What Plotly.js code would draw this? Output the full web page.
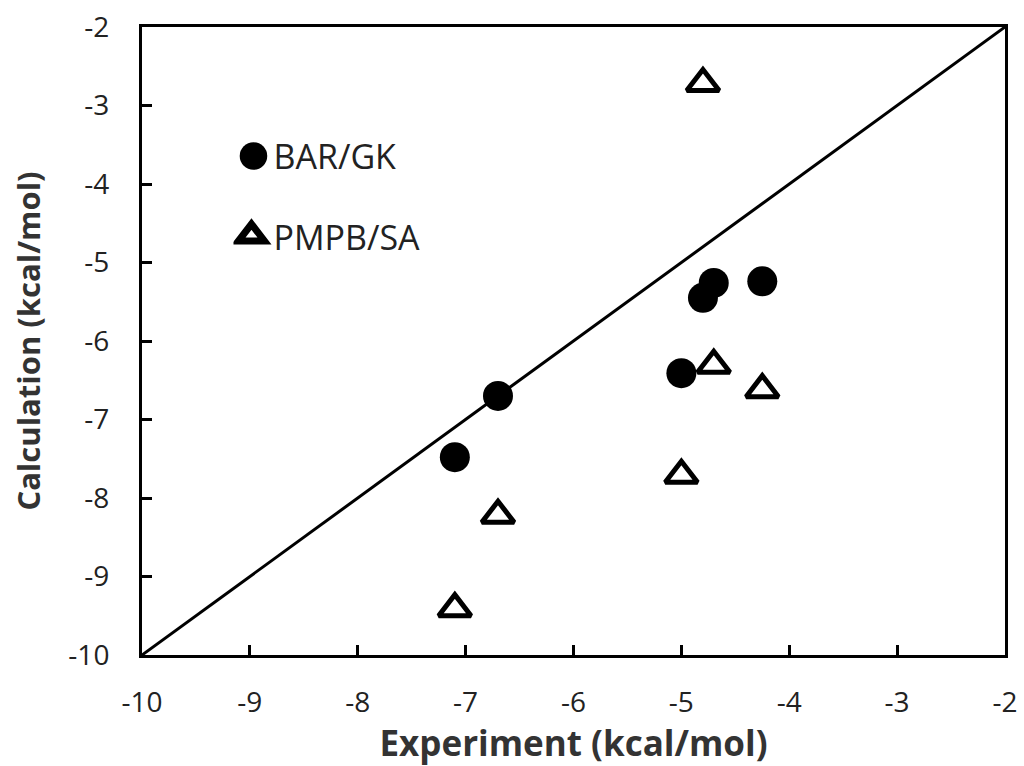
<!DOCTYPE html>
<html>
<head>
<meta charset="utf-8">
<script src="https://cdn.plot.ly/plotly-3.0.1.min.js"></script>
<style>
html,body{margin:0;padding:0;background:#fff;}
#chart{width:1024px;height:766px;}
/* enlarge legend glyphs to match the figure's marker sizes */
#chart .legend g.groups:nth-of-type(1) path.scatterpts{transform:translate(20px,0px) scale(1.72);}
#chart .legend g.groups:nth-of-type(2) path.scatterpts{transform:translate(18px,-1px) scale(1.4);}
</style>
</head>
<body>
<div id="chart"></div>
<script>
// Experimental binding free energies (kcal/mol)
const experiment = [-7.1, -6.7, -5.0, -4.8, -4.7, -4.25];
// BAR/GK calculated values
const barGK = [-7.48, -6.70, -6.41, -5.45, -5.26, -5.24];
// PMPB/SA calculated values
const pmpbSA = [-9.41, -8.22, -7.71, -2.72, -6.31, -6.62];
// y = x reference line
const diagX = [-10, -2];
const diagY = [-10, -2];
const tickVals = [-10, -9, -8, -7, -6, -5, -4, -3, -2];

const FONT = '"Open Sans", "DejaVu Sans", sans-serif';

const traces = [
  {
    x: diagX, y: diagY, mode: 'lines', type: 'scatter',
    line: {color: '#000', width: 3}, showlegend: false, hoverinfo: 'skip'
  },
  {
    x: experiment, y: barGK, mode: 'markers', type: 'scatter', name: 'BAR/GK',
    legendgroup: 'a',
    marker: {symbol: 'circle', size: 30, color: '#000', line: {width: 0}}
  },
  {
    x: experiment, y: pmpbSA, mode: 'markers', type: 'scatter', name: 'PMPB/SA',
    legendgroup: 'b',
    marker: {symbol: 'triangle-up-open', size: 28, color: '#000', line: {width: 5, color: '#000'}}
  }
];

const axisCommon = {
  range: [-10, -2],
  tickvals: tickVals,
  ticktext: tickVals.map(String),
  ticks: 'inside',
  ticklen: 10,
  tickwidth: 3,
  tickcolor: '#000',
  showline: true,
  linewidth: 3,
  linecolor: '#000',
  mirror: true,
  showgrid: false,
  zeroline: false,
  tickfont: {family: FONT, size: 28, color: '#222'},
  fixedrange: true
};

const layout = {
  width: 1024, height: 766,
  margin: {l: 142, r: 19, t: 27, b: 111},
  paper_bgcolor: '#fff', plot_bgcolor: '#fff',
  showlegend: true,
  legend: {
    x: 0.106, y: 0.84, xanchor: 'left', yanchor: 'top',
    traceorder: 'grouped', tracegroupgap: 33,
    font: {family: FONT, size: 34, color: '#222'},
    bgcolor: 'rgba(0,0,0,0)', borderwidth: 0
  },
  xaxis: Object.assign({}, axisCommon, {
    ticklabelstandoff: 20,
    title: {text: '<b>Experiment (kcal/mol)</b>', font: {family: FONT, size: 35, color: '#333'}, standoff: 9}
  }),
  yaxis: Object.assign({}, axisCommon, {
    ticklabelstandoff: 24,
    title: {text: '<b>Calculation (kcal/mol)</b>', font: {family: FONT, size: 31, color: '#333'}, standoff: 19}
  })
};

Plotly.newPlot('chart', traces, layout, {displayModeBar: false, staticPlot: true});
</script>
</body>
</html>
